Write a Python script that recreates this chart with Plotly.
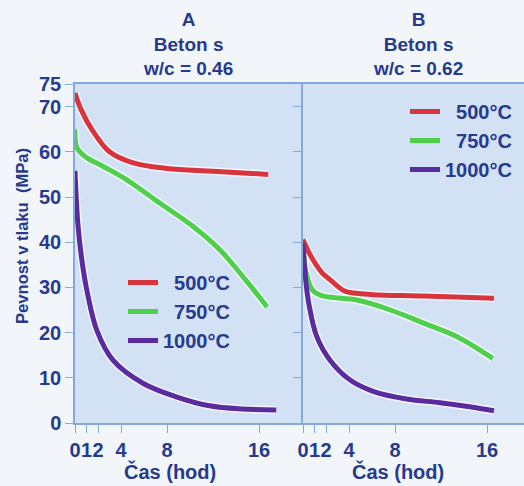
import plotly.graph_objects as go

# ---------------- data ----------------
series_names = ["500°C", "750°C", "1000°C"]
legend_labels = ["\u00a0\u00a0500°C", "\u00a0\u00a0750°C", "1000°C"]
series_colors = ["#d8343e", "#4fd04c", "#5a2b9e"]

# Panel A (w/c = 0.46)
a500_t = [0, 0.5, 1.5, 3.0, 5.0, 8.0, 12.0, 16.8]
a500_v = [73.0, 69.5, 64.8, 60.0, 57.6, 56.3, 55.7, 55.0]
a750_t = [0, 0.15, 0.9, 2.5, 4.5, 7.4, 10.3, 12.6, 14.6, 16.7]
a750_v = [65.0, 61.0, 58.9, 56.7, 53.8, 48.6, 43.4, 38.3, 32.4, 25.7]
a1000_t = [0, 0.25, 0.6, 1.1, 1.9, 3.3, 5.9, 8.8, 11.7, 14.5, 17.5]
a1000_v = [55.8, 44.0, 36.0, 28.5, 20.5, 13.9, 8.8, 5.8, 3.8, 3.1, 2.9]

# Panel B (w/c = 0.62)
b500_t = [0, 0.6, 1.6, 2.4, 3.6, 4.7, 6.1, 10.5, 16.6]
b500_v = [40.6, 37.3, 33.4, 31.6, 29.2, 28.7, 28.4, 28.1, 27.6]
b750_t = [0, 0.25, 0.8, 1.5, 2.5, 4.7, 7.6, 10.5, 13.4, 16.5]
b750_v = [39.4, 33.5, 29.5, 28.3, 27.8, 27.2, 25.0, 22.1, 19.1, 14.3]
b1000_t = [0, 0.2, 0.5, 1.2, 2.35, 4.1, 6.1, 9.0, 11.9, 14.5, 16.6]
b1000_v = [39.8, 32.5, 26.5, 19.1, 13.9, 9.5, 7.0, 5.3, 4.5, 3.6, 2.7]

x_ticks = [0, 1, 2, 4, 8, 16]
y_ticks = [0, 10, 20, 30, 40, 50, 60, 70, 75]
y_ticks_b = [0, 10, 20, 30, 40, 50, 60, 70]

panel_titles = ["A<br>Beton s<br>w/c = 0.46", "B<br>Beton s<br>w/c = 0.62"]
x_title = "Čas (hod)"
y_title = "Pevnost v tlaku\u00a0\u00a0(MPa)"

# ---------------- style ----------------
W, H = 524, 486
ML, MR, MT, MB = 75, 0, 84, 63
PW, PH = W - ML - MR, H - MT - MB
split = (303 - ML) / PW
TXT = "#263a8e"
AX = "#84a9dc"
FONT = "Liberation Sans, Arial, sans-serif"

def px_x(p):
    return (p - ML) / PW

def px_y(p):
    return (H - MB - p) / PH

fig = go.Figure()

panels = [
    ("x", "y", "legend", [(a500_t, a500_v), (a750_t, a750_v), (a1000_t, a1000_v)]),
    ("x2", "y2", "legend2", [(b500_t, b500_v), (b750_t, b750_v), (b1000_t, b1000_v)]),
]

for xa, ya, lg, data in panels:
    for (t, v) in data:
        fig.add_trace(go.Scatter(x=t, y=v, xaxis=xa, yaxis=ya, mode="lines",
                                 line=dict(color="rgba(255,255,255,0.7)", width=8,
                                           shape="spline", smoothing=1.0),
                                 showlegend=False, hoverinfo="skip"))
    for i, (t, v) in enumerate(data):
        fig.add_trace(go.Scatter(x=t, y=v, xaxis=xa, yaxis=ya, mode="lines",
                                 name=legend_labels[i], legend=lg,
                                 legendgroup=lg + series_names[i],
                                 line=dict(color=series_colors[i], width=5,
                                           shape="spline", smoothing=1.0)))

axis_common = dict(showline=True, linecolor=AX, linewidth=1.5, ticks="outside",
                   tickcolor=AX, ticklen=8, tickwidth=1.2, showgrid=False, zeroline=False,
                   tickangle=0,
                   tickfont=dict(family=FONT, size=20, color=TXT, weight="bold"))

fig.update_layout(
    width=W, height=H,
    margin=dict(l=ML, r=MR, t=MT, b=MB, pad=0),
    paper_bgcolor="#f2f5fa",
    plot_bgcolor="#d2e1f4",
    xaxis=dict(domain=[0, split], range=[0, (303 - ML) / 11.5], tickvals=x_ticks,
               mirror=True, anchor="y", **axis_common),
    xaxis2=dict(domain=[split, 1], range=[0, (W - 303) / 11.5], tickvals=x_ticks,
                mirror=True, anchor="y2", **axis_common),
    yaxis=dict(range=[0, 75], tickvals=y_ticks, anchor="x", **axis_common),
    yaxis2=dict(range=[0, 75], tickvals=y_ticks_b, anchor="x2", showticklabels=False,
                **{k: v for k, v in axis_common.items() if k != "tickfont"}),
    legend=dict(x=px_x(123), y=px_y(263), xanchor="left", yanchor="top",
                bgcolor="rgba(0,0,0,0)", borderwidth=0, tracegroupgap=0,
                font=dict(family=FONT, size=20, color=TXT, weight="bold")),
    legend2=dict(x=px_x(405), y=px_y(92), xanchor="left", yanchor="top",
                 bgcolor="rgba(0,0,0,0)", borderwidth=0, tracegroupgap=0,
                 font=dict(family=FONT, size=20, color=TXT, weight="bold")),
    showlegend=True,
)

anns = []
for cx, txt in zip([188, 418], panel_titles):
    anns.append(dict(text=txt, x=px_x(cx), y=px_y(44), xref="paper", yref="paper",
                     xanchor="center", yanchor="middle", showarrow=False,
                     font=dict(family=FONT, size=19, color=TXT, weight="bold")))
for xr in ["x", "x2"]:
    anns.append(dict(text=x_title, x=8.3, y=px_y(485), xref=xr, yref="paper",
                     xanchor="center", yanchor="bottom", showarrow=False,
                     font=dict(family=FONT, size=20, color=TXT, weight="bold")))
anns.append(dict(text=y_title, x=px_x(22), y=px_y(236), xref="paper", yref="paper",
                 xanchor="center", yanchor="middle", textangle=-90, showarrow=False,
                 font=dict(family=FONT, size=16.6, color=TXT, weight="bold")))
fig.update_layout(annotations=anns)

fig.write_html("out.html")
